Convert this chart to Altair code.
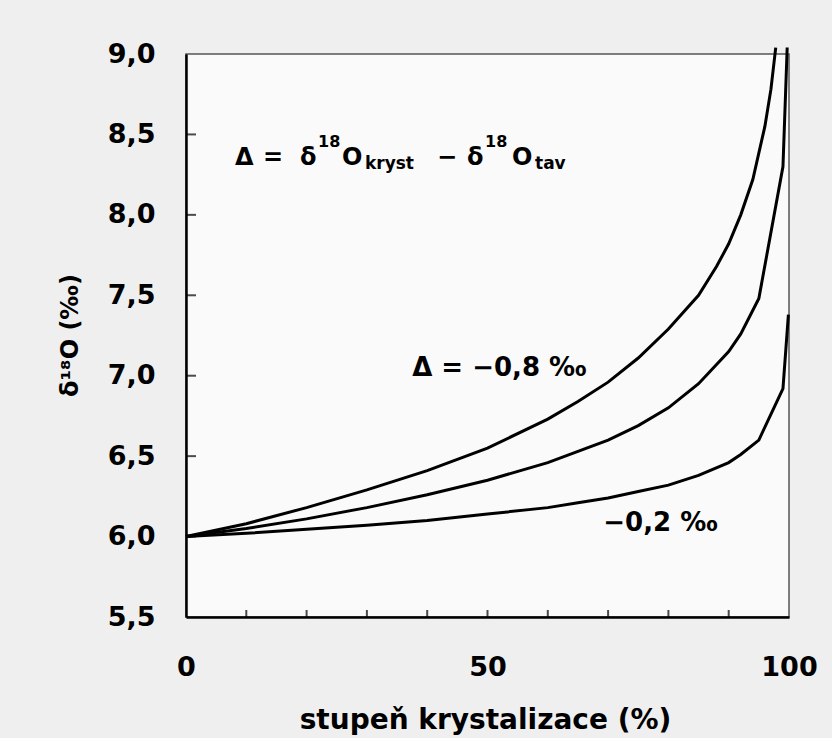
import altair as alt
import pandas as pd

# ---- curve data ----
frac_08 = [0, 10, 20, 30, 40, 50, 60, 65, 70, 75, 80, 85, 88, 90, 92, 94, 96, 97, 97.8]
d18o_08 = [6.00, 6.08, 6.18, 6.29, 6.41, 6.55, 6.73, 6.84, 6.96, 7.11, 7.29, 7.50, 7.68, 7.82, 8.00, 8.22, 8.55, 8.78, 9.04]

frac_05 = [0, 10, 20, 30, 40, 50, 60, 65, 70, 75, 80, 85, 90, 92, 95, 99, 99.7]
d18o_05 = [6.00, 6.05, 6.11, 6.18, 6.26, 6.35, 6.46, 6.53, 6.60, 6.69, 6.80, 6.95, 7.15, 7.26, 7.48, 8.30, 9.04]

frac_02 = [0, 10, 20, 30, 40, 50, 60, 65, 70, 75, 80, 85, 90, 92, 95, 99, 99.9]
d18o_02 = [6.00, 6.02, 6.045, 6.07, 6.10, 6.14, 6.18, 6.21, 6.24, 6.28, 6.32, 6.38, 6.46, 6.51, 6.60, 6.92, 7.38]

# ---- axis ticks / labels ----
x_label_values = [0, 50, 100]
y_label_values = [5.5, 6.0, 6.5, 7.0, 7.5, 8.0, 8.5, 9.0]
x_minor_ticks = [10, 20, 30, 40, 50, 60, 70, 80, 90]
y_minor_ticks = [6.0, 6.5, 7.0, 7.5, 8.0, 8.5]

# ---- annotation texts ----
formula_text = ["Δ", "=", "δ", "18", "O", "kryst", "−", "δ", "18", "O", "tav"]
formula_x = [8.13, 12.77, 18.91, 21.89, 25.87, 29.68, 41.63, 46.60, 49.59, 54.06, 57.88]
formula_y = [8.308, 8.308, 8.308, 8.42, 8.308, 8.283, 8.308, 8.308, 8.42, 8.308, 8.283]
formula_size = [24, 24, 24, 16, 24, 17, 24, 24, 16, 24, 17]

curve_label_text = ["Δ = −0,8 ‰", "−0,2 ‰"]
curve_label_x = [37.5, 69.2]
curve_label_y = [7.05, 6.085]

# ---- build tables ----
curves = pd.concat([
    pd.DataFrame({"f": frac_08, "d": d18o_08, "s": "-0.8"}),
    pd.DataFrame({"f": frac_05, "d": d18o_05, "s": "-0.5"}),
    pd.DataFrame({"f": frac_02, "d": d18o_02, "s": "-0.2"}),
], ignore_index=True)
xt = pd.DataFrame({"f": x_minor_ticks, "d": [5.5] * len(x_minor_ticks)})
yt = pd.DataFrame({"d": y_minor_ticks, "f": [0] * len(y_minor_ticks)})
formula = pd.DataFrame({"t": formula_text, "f": formula_x, "d": formula_y, "size": formula_size})
clabels = pd.DataFrame({"t": curve_label_text, "f": curve_label_x, "d": curve_label_y})

W, H = 603, 563
FONT = "DejaVu Sans"
xs = alt.Scale(domain=[0, 100], nice=False, zero=False)
ys = alt.Scale(domain=[5.5, 9.0], nice=False, zero=False)

x_axis = alt.Axis(
    values=x_label_values, labelExpr="format(datum.value, 'd')",
    labelPadding=50, labelBaseline="middle", labelFlush=False,
    title="stupeň krystalizace (%)", titleFontSize=28,
    titleX=299, titleY=111, titleBaseline="alphabetic", titleAlign="center",
)
y_axis = alt.Axis(
    values=y_label_values, labelExpr="replace(format(datum.value, '.1f'), '.', ',')",
    labelPadding=31, labelAlign="right", labelBaseline="middle",
    title="δ¹⁸O (‰)", titleFontSize=24, titleAngle=270,
    titleX=-116, titleY=281, titleAlign="center", titleBaseline="middle",
)

lines = alt.Chart(curves).mark_line(color="black", strokeWidth=3).encode(
    x=alt.X("f:Q", scale=xs, axis=x_axis),
    y=alt.Y("d:Q", scale=ys, axis=y_axis),
    detail="s:N",
    order="f:Q",
)

xticks = alt.Chart(xt).mark_tick(
    orient="vertical", size=7, thickness=2, color="black", yOffset=-3.5
).encode(
    x=alt.X("f:Q", scale=xs),
    y=alt.Y("d:Q", scale=ys),
)

yticks = alt.Chart(yt).mark_tick(
    orient="horizontal", size=10, thickness=2, color="black", xOffset=5
).encode(
    x=alt.X("f:Q", scale=xs),
    y=alt.Y("d:Q", scale=ys),
)

ftext = alt.Chart(formula).mark_text(
    font=FONT, fontWeight="bold", align="left", baseline="alphabetic", color="black"
).encode(
    x=alt.X("f:Q", scale=xs),
    y=alt.Y("d:Q", scale=ys),
    text="t:N",
    size=alt.Size("size:Q", scale=None, legend=None),
)

ctext = alt.Chart(clabels).mark_text(
    font=FONT, fontWeight="bold", fontSize=26, align="left", baseline="middle", color="black"
).encode(
    x=alt.X("f:Q", scale=xs),
    y=alt.Y("d:Q", scale=ys),
    text="t:N",
)

chart = alt.layer(lines, xticks, yticks, ftext, ctext).properties(
    width=W, height=H,
    autosize=alt.AutoSizeParams(type="none"),
    padding={"left": 186, "top": 54, "right": 43, "bottom": 121},
    background="#efefef",
).configure_view(
    stroke="#555555", strokeWidth=1.5, fill="#fafafa"
).configure_axis(
    ticks=False, grid=False, domainColor="black", domainWidth=2.5,
    labelFont=FONT, labelFontWeight="bold", labelFontSize=27, labelColor="black",
    titleFont=FONT, titleFontWeight="bold", titleColor="black",
)

chart.save("out.html", embed_options={"renderer": "svg", "actions": False})
